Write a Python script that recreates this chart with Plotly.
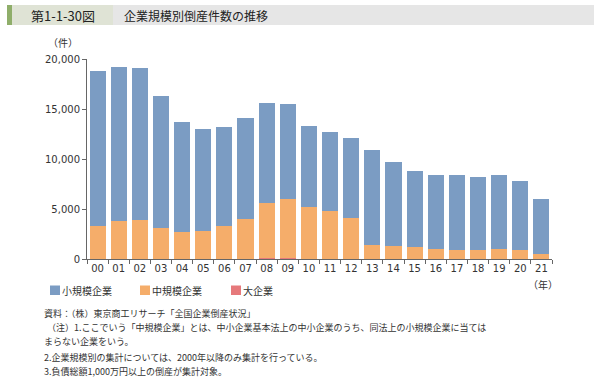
import plotly.graph_objects as go

years = ["00", "01", "02", "03", "04", "05", "06", "07", "08", "09", "10",
         "11", "12", "13", "14", "15", "16", "17", "18", "19", "20", "21"]
large = [40, 40, 40, 30, 20, 20, 20, 30, 70, 60, 40,
         30, 30, 20, 10, 10, 10, 10, 10, 10, 10, 10]
medium = [3250, 3750, 3830, 3030, 2730, 2760, 3260, 3960, 5530, 5900, 5160,
          4760, 4060, 1360, 1260, 1200, 1030, 930, 930, 960, 930, 530]
small = [15510, 15410, 15230, 13200, 10950, 10220, 9970, 10110, 10050, 9520, 8120,
         7940, 8030, 9480, 8460, 7600, 7410, 7460, 7300, 7410, 6830, 5490]
series_names = ["小規模企業", "中規模企業", "大企業"]
colors = ["#7b9cc3", "#f5ad6a", "#e6797b"]
y_ticks = [0, 5000, 10000, 15000, 20000]
y_tick_text = ["0", "5,000", "10,000", "15,000", "20,000"]

W, H = 600, 388
L, R, T, B = 87, 48, 59, 129
PW, PH = W - L - R, H - T - B


def px(x):
    return (x - L) / PW


def py(y):
    return (H - B - y) / PH


JP = "Noto Sans CJK JP"
TXT = "#333333"

fig = go.Figure()
for vals, name, col in [(large, series_names[2], colors[2]),
                        (medium, series_names[1], colors[1]),
                        (small, series_names[0], colors[0])]:
    fig.add_trace(go.Bar(x=years, y=vals, name=name, marker_color=col,
                         marker_line_width=0, showlegend=False))

fig.update_layout(
    width=W, height=H,
    margin=dict(l=L, r=R, t=T, b=B, autoexpand=False),
    paper_bgcolor="white", plot_bgcolor="white",
    barmode="stack", bargap=0.24,
    font=dict(family="DejaVu Sans", size=10, color=TXT),
)
fig.update_xaxes(
    type="category", showgrid=False, showline=True, linecolor="#666666", linewidth=1,
    ticks="outside", tickson="boundaries", ticklen=4, tickcolor="#666666",
    tickangle=0, automargin=False,
    tickfont=dict(family="DejaVu Sans", size=10, color=TXT),
)
fig.update_yaxes(
    range=[0, 20000], showgrid=False, showline=True, linecolor="#666666", linewidth=1,
    ticks="outside", ticklen=4, tickcolor="#666666", zeroline=False, automargin=False,
    tickvals=y_ticks, ticktext=y_tick_text,
    tickfont=dict(family="DejaVu Sans", size=10, color=TXT),
)

shapes = []
# header
shapes.append(dict(type="rect", xref="paper", yref="paper", x0=px(7), x1=px(12), y0=py(25), y1=py(5),
                   fillcolor="#8fae6a", line_width=0))
shapes.append(dict(type="rect", xref="paper", yref="paper", x0=px(12), x1=px(113), y0=py(25), y1=py(5),
                   fillcolor="#dfe3d5", line_width=0))
shapes.append(dict(type="rect", xref="paper", yref="paper", x0=px(113), x1=px(594), y0=py(25), y1=py(5),
                   fillcolor="#e6e6e6", line_width=0))
# legend squares
leg_x = [50, 140, 231]
for lx, col in zip(leg_x, colors):
    shapes.append(dict(type="rect", xref="paper", yref="paper", x0=px(lx), x1=px(lx + 10),
                       y0=py(295), y1=py(285.5), fillcolor=col, line_width=0))

ann = []


def text(x, y, s, size=10, xanchor="left", family=JP, color=TXT):
    ann.append(dict(x=px(x), y=py(y), xref="paper", yref="paper", text=s, showarrow=False,
                    xanchor=xanchor, yanchor="middle", align="left", borderpad=0,
                    font=dict(family=family, size=size, color=color)))


text(63, 15, "第1-1-30図", size=13, xanchor="center", color="#222222")
text(123, 15, "企業規模別倒産件数の推移", size=12, color="#222222")
text(63, 43, "（件）", size=10, xanchor="center")
text(543, 284, "（年）", size=10, xanchor="center")
for lx, name in zip(leg_x, series_names):
    text(lx + 11, 290, name, size=10)

notes = [
    (43, 313, "資料：（株）東京商工リサーチ「全国企業倒産状況」"),
    (46, 327.5, "（注）1.ここでいう「中規模企業」とは、中小企業基本法上の中小企業のうち、同法上の小規模企業に当ては"),
    (43, 341.5, "まらない企業をいう。"),
    (43, 357, "2.企業規模別の集計については、2000年以降のみ集計を行っている。"),
    (43, 371, "3.負債総額1,000万円以上の倒産が集計対象。"),
]
for nx, ny, s in notes:
    text(nx, ny, s, size=9)

fig.update_layout(shapes=shapes, annotations=ann)
fig.write_html("out.html", config={"displayModeBar": False},
               post_script="document.body.style.margin='0px';document.body.style.overflow='hidden';")
